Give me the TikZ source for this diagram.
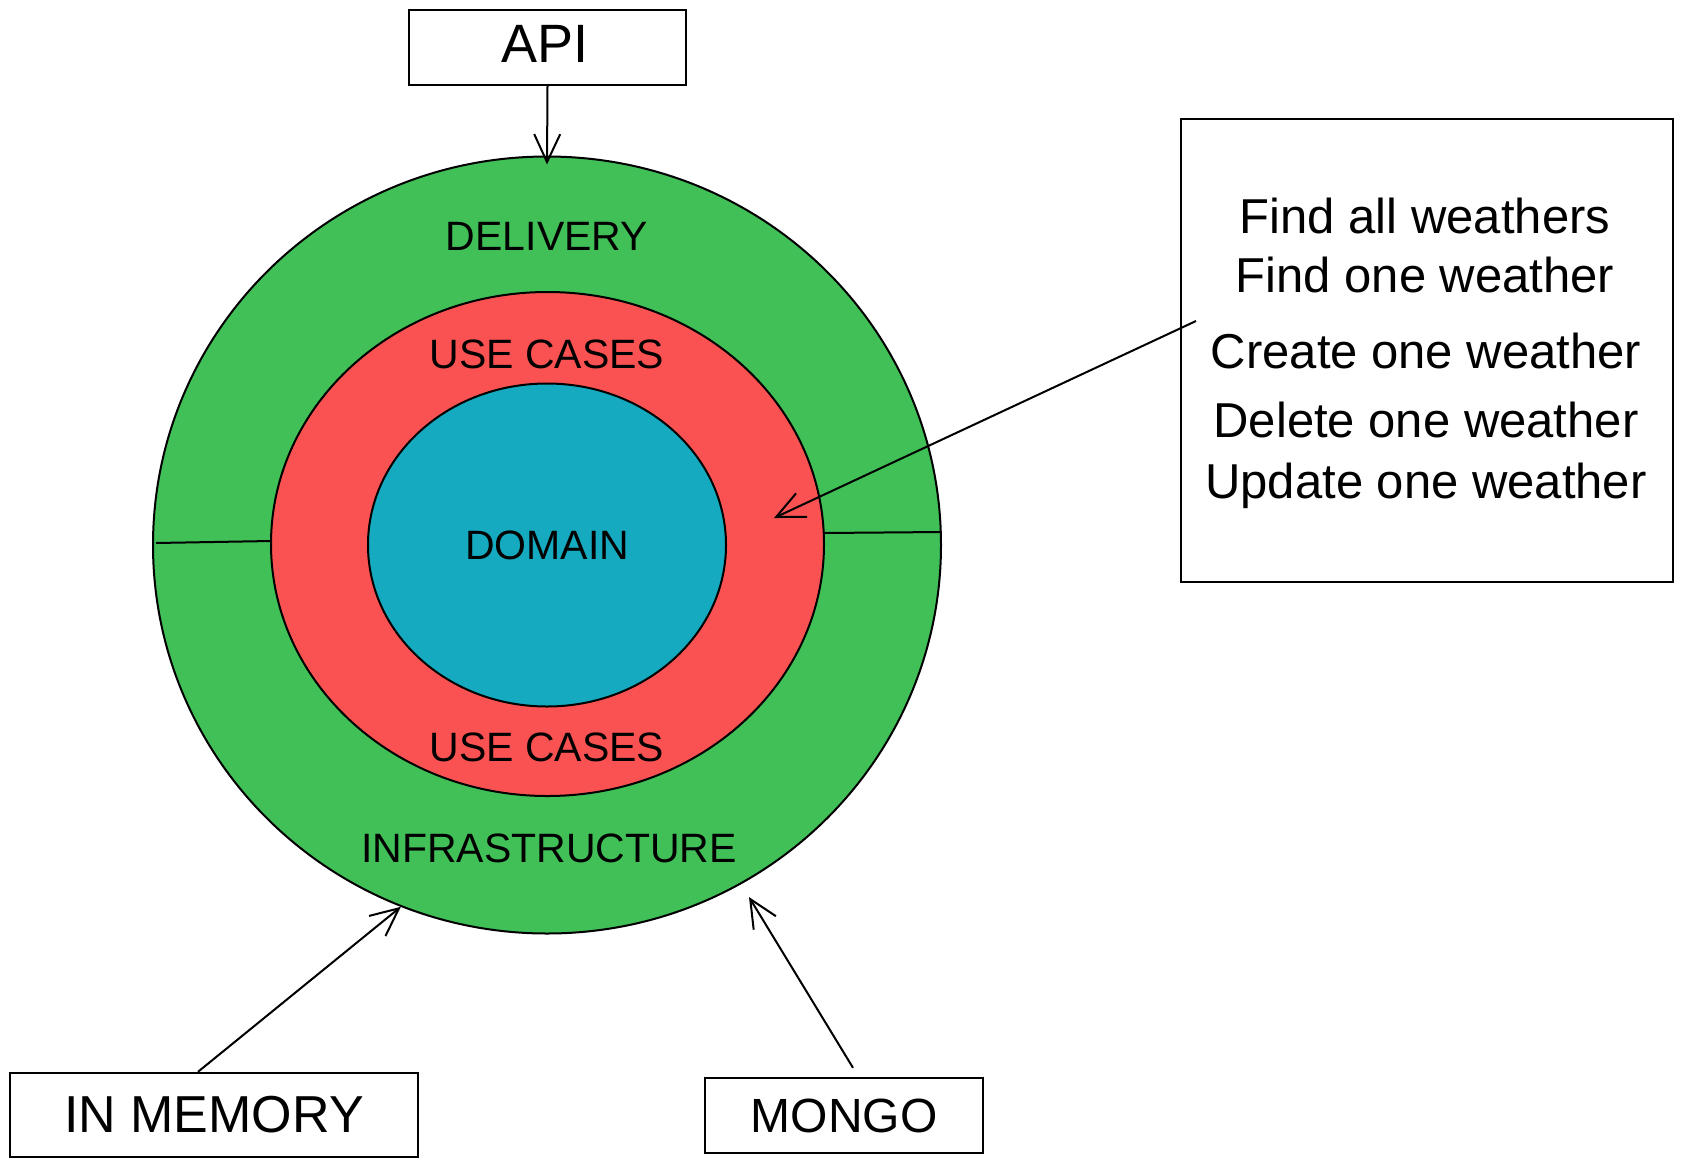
\documentclass[tikz,border=0pt]{standalone}
\usepackage{fontspec}
\setmainfont{Liberation Sans}
\usetikzlibrary{shapes.geometric,arrows.meta}
\definecolor{ringgreen}{HTML}{40C057}
\definecolor{ringred}{HTML}{FA5252}
\definecolor{ringblue}{HTML}{15AABF}
\begin{document}
\begin{tikzpicture}[x=0.5pt,y=-0.5pt,
  ring/.style={ellipse, draw=black, line width=1pt, inner sep=0pt},
  box/.style={rectangle, draw=black, line width=1.2pt, fill=white, inner sep=0pt},
  lbl/.style={anchor=base, inner sep=0pt, font=\fontsize{20.5}{24}\selectfont},
  boxlbl/.style={anchor=base, inner sep=0pt, font=\fontsize{24}{28}\selectfont},
  item/.style={anchor=base, inner sep=0pt, font=\fontsize{24.5}{28}\selectfont},
  link/.style={line width=1pt, -{Straight Barb[length=14pt,width=13pt,line width=1pt]}},
  divider/.style={line width=1pt}]
\fill[white] (0,0) rectangle (1682,1168);
\useasboundingbox (0,0) rectangle (1682,1168);

% concentric layers
\node[ring, fill=ringgreen, minimum width=394pt, minimum height=388.5pt] (outer) at (547,545) {};
\coordinate (divLa) at (156,543);
\coordinate (divLb) at (271,541);
\coordinate (divRa) at (824,533);
\coordinate (divRb) at (941,532);
\draw[divider] (divLa) -- (divLb);
\draw[divider] (divRa) -- (divRb);
\node[ring, fill=ringred, minimum width=276.5pt, minimum height=252pt] (usecases) at (547.5,544) {};
\node[ring, fill=ringblue, minimum width=179pt, minimum height=161.5pt] (domain) at (547,545) {};

% layer labels
\node[lbl] (tdelivery) at (547,250) {DELIVERY};
\node[lbl] (tuse1) at (547,368) {USE CASES};
\node[lbl] (tdomain) at (547,559) {DOMAIN};
\node[lbl] (tuse2) at (547,761) {USE CASES};
\node[lbl] (tinfra) at (549,862) {INFRASTRUCTURE};

% outer boxes
\node[box, minimum width=138.5pt, minimum height=37.5pt] (api) at (547.5,47.5) {};
\node[boxlbl, font=\fontsize{27}{30}\selectfont] (tapi) at (545,62) {API};
\node[box, minimum width=204pt, minimum height=42pt] (mem) at (214,1115) {};
\node[boxlbl, font=\fontsize{26}{30}\selectfont] (tmem) at (214,1132) {IN MEMORY};
\node[box, minimum width=139pt, minimum height=37.5pt] (mongo) at (844,1115.5) {};
\node[boxlbl] (tmongo) at (844,1132) {MONGO};

% use case list
\node[box, minimum width=246pt, minimum height=231.5pt] (list) at (1427,350.5) {};
\node[item] (i1) at (1425,233) {Find all weathers};
\node[item] (i2) at (1425,292) {Find one weather};
\node[item] (i3) at (1426,368) {Create one weather};
\node[item] (i4) at (1426,437) {Delete one weather};
\node[item] (i5) at (1426,498) {Update one weather};

% connectors
\coordinate (callout) at (1196,321);
\coordinate (ucpoint) at (774,518);
\draw[link] (api.south) -- ([yshift=-4.5pt]outer.north);
\draw[link] (callout) -- (ucpoint);
\draw[link] ([xshift=-8pt]mem.north) -- (outer.248);
\draw[link] ([xshift=4.5pt,yshift=4.5pt]mongo.north) -- (749,897);
\end{tikzpicture}
\end{document}
